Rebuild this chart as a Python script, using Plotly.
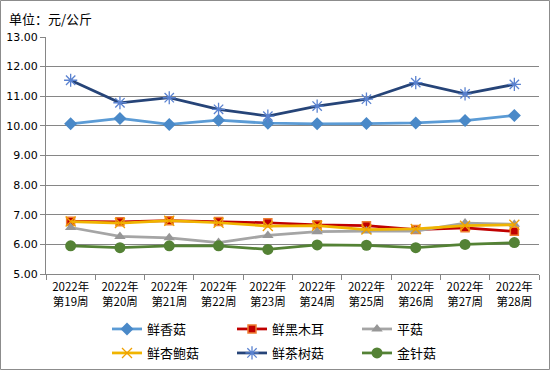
import plotly.graph_objects as go

weeks = ["第19周", "第20周", "第21周", "第22周", "第23周", "第24周", "第25周", "第26周", "第27周", "第28周"]
categories = ["2022年<br>" + w for w in weeks]

xianggu = [10.07, 10.25, 10.05, 10.19, 10.09, 10.07, 10.08, 10.10, 10.18, 10.35]
heimuer = [6.78, 6.76, 6.80, 6.77, 6.73, 6.66, 6.63, 6.50, 6.56, 6.44]
pinggu = [6.57, 6.27, 6.22, 6.06, 6.30, 6.43, 6.45, 6.45, 6.72, 6.68]
xingbaogu = [6.77, 6.72, 6.80, 6.73, 6.62, 6.63, 6.50, 6.52, 6.63, 6.66]
chashugu = [11.54, 10.78, 10.95, 10.56, 10.33, 10.67, 10.90, 11.46, 11.08, 11.40]
jinzhengu = [5.95, 5.89, 5.95, 5.95, 5.83, 5.98, 5.97, 5.89, 6.00, 6.06]

series = [
    ("鲜香菇", xianggu, "#5B9BD5", dict(symbol="diamond", size=10, color="#4A89C8", line=dict(width=0)), "legend"),
    ("鲜黑木耳", heimuer, "#C00000", dict(symbol="square", size=8, color="#C00000", line=dict(width=1.5, color="#ED7D31")), "legend"),
    ("平菇", pinggu, "#A5A5A5", dict(symbol="triangle-up", size=10, color="#979797", line=dict(width=0)), "legend"),
    ("鲜杏鲍菇", xingbaogu, "#F0B400", dict(symbol="x-thin-open", size=10, color="#F0A000", line=dict(width=1.3, color="#F0A000")), "legend2"),
    ("鲜茶树菇", chashugu, "#264478", dict(symbol="asterisk-open", size=11, color="#5A82D0", line=dict(width=1.3, color="#5A82D0")), "legend2"),
    ("金针菇", jinzhengu, "#548235", dict(symbol="circle", size=11, color="#548235", line=dict(width=0)), "legend2"),
]

fig = go.Figure()
for name, vals, col, mk, lg in series:
    fig.add_trace(go.Scatter(
        x=categories, y=vals, name=name, mode="lines+markers",
        line=dict(color=col, width=2.75), marker=mk, legend=lg,
    ))

font_cjk = "Noto Sans CJK SC, DejaVu Sans, sans-serif"
legend_common = dict(
    orientation="h", x=(107 - 46) / 493, xanchor="left", yanchor="middle",
    font=dict(family=font_cjk, size=13, color="#000000"),
    entrywidth=80, entrywidthmode="pixels", itemwidth=30,
    bgcolor="rgba(0,0,0,0)", tracegroupgap=0, traceorder="normal",
)

fig.update_layout(
    width=550, height=370,
    margin=dict(l=46, r=11, t=37, b=96, autoexpand=False),
    paper_bgcolor="white", plot_bgcolor="white",
    showlegend=True,
    legend=dict(**legend_common, y=(274 - 329) / 237),
    legend2=dict(**legend_common, y=(274 - 353) / 237),
    font=dict(family=font_cjk, size=11, color="#000000"),
    annotations=[dict(
        text="单位：元/公斤", xref="paper", yref="paper", x=-46/493 + 7/493, y=(274 - 18) / 237,
        xanchor="left", yanchor="middle", showarrow=False,
        font=dict(family=font_cjk, size=13, color="#000000"),
    )],
    shapes=[dict(
        type="rect", xref="paper", yref="paper",
        x0=-45.5/493, x1=503.5/493, y0=(274 - 369.5) / 237, y1=(274 - 0.5) / 237,
        line=dict(color="#8C8C8C", width=1), fillcolor="rgba(0,0,0,0)", layer="below",
    )],
)

fig.update_xaxes(
    type="category", showline=True, linecolor="#868686", linewidth=1,
    ticks="outside", tickson="boundaries", ticklen=5, tickcolor="#868686",
    showgrid=False, tickfont=dict(family=font_cjk, size=11.5, color="#000000"),
    ticklabelstandoff=2,
    range=[-0.5, 9.5],
)
fig.update_yaxes(
    range=[5, 13], dtick=1, tickformat=".2f",
    showline=True, linecolor="#868686", linewidth=1,
    ticks="outside", ticklen=5, tickcolor="#868686",
    showgrid=True, gridcolor="#868686", gridwidth=1, zeroline=False,
    tickfont=dict(family="DejaVu Sans, sans-serif", size=11, color="#000000"),
)

fig.write_html(
    "out.html",
    config={"displayModeBar": False},
    post_script="document.body.style.margin='0';document.body.style.padding='0';",
)
